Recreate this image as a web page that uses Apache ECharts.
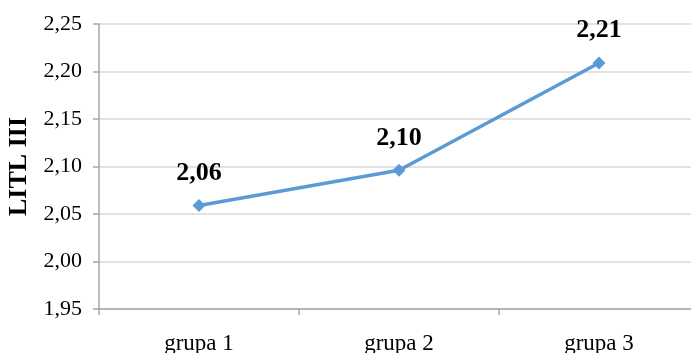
<!DOCTYPE html>
<html>
<head>
<meta charset="utf-8">
<script src="https://cdn.jsdelivr.net/npm/echarts@6/dist/echarts.min.js"></script>
<style>
  html, body { margin: 0; padding: 0; background: #ffffff; }
  #chart { width: 691px; height: 353px; }
</style>
</head>
<body>
<div id="chart"></div>
<script>
// Mean LITL III score per group
const categories = ['grupa 1', 'grupa 2', 'grupa 3'];
const litlValues = [2.059, 2.096, 2.209];
const yTicks = { min: 1.95, max: 2.25, step: 0.05 };
const yAxisTitle = 'LITL III';

const serif = '"Liberation Serif", "DejaVu Serif", serif';
const comma = (v, d) => (Math.round(v * Math.pow(10, d)) / Math.pow(10, d)).toFixed(d).replace('.', ',');

const chart = echarts.init(document.getElementById('chart'), null, { renderer: 'canvas' });

chart.setOption({
  animation: false,
  backgroundColor: '#ffffff',
  grid: { left: 99, top: 24, width: 600, height: 285, containLabel: false, outerBoundsMode: 'none' },
  xAxis: {
    type: 'category',
    data: categories,
    boundaryGap: true,
    axisLine: { show: true, lineStyle: { color: '#a6a6a6', width: 1.5 } },
    axisTick: { show: true, alignWithLabel: false, length: 6, lineStyle: { color: '#a6a6a6', width: 1.5 } },
    axisLabel: { color: '#000000', fontFamily: serif, fontSize: 23, margin: 23 },
    splitLine: { show: false }
  },
  yAxis: {
    type: 'value',
    min: yTicks.min,
    max: yTicks.max,
    interval: yTicks.step,
    name: yAxisTitle,
    nameLocation: 'middle',
    nameGap: 66,
    nameRotate: 90,
    nameTextStyle: { color: '#000000', fontFamily: serif, fontSize: 26, fontWeight: 'bold' },
    axisLine: { show: true, lineStyle: { color: '#a6a6a6', width: 1.5 } },
    axisTick: { show: true, length: 6, lineStyle: { color: '#a6a6a6', width: 1.5 } },
    axisLabel: { color: '#000000', fontFamily: serif, fontSize: 22, margin: 17, formatter: v => comma(v, 2) },
    splitLine: { show: true, lineStyle: { color: '#d9d9d9', width: 1.5 } }
  },
  series: [{
    type: 'line',
    data: litlValues,
    symbol: 'diamond',
    symbolSize: 13,
    lineStyle: { color: '#5b9bd5', width: 3.5 },
    itemStyle: { color: '#5b9bd5' },
    label: {
      show: true,
      position: 'top',
      distance: 13,
      color: '#000000',
      fontFamily: serif,
      fontSize: 26,
      fontWeight: 'bold',
      formatter: p => comma(p.value, 2)
    }
  }]
});
</script>
</body>
</html>
